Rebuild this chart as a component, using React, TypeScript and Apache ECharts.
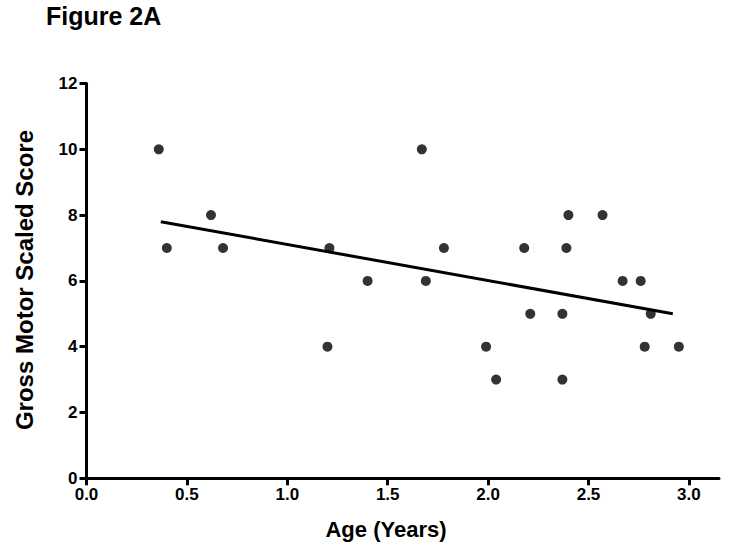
import React, { useEffect, useRef } from "react";
import * as echarts from "echarts";

const ageYears = [0.36, 0.4, 0.62, 0.68, 1.21, 1.2, 1.4, 1.67, 1.69, 1.78, 1.99, 2.04, 2.18, 2.21, 2.37, 2.37, 2.39, 2.4, 2.57, 2.67, 2.76, 2.78, 2.81, 2.95];
const motorScore = [10, 7, 8, 7, 7, 4, 6, 10, 6, 7, 4, 3, 7, 5, 5, 3, 7, 8, 8, 6, 6, 4, 5, 4];
const fitX = [0.37, 2.92];
const fitY = [7.8, 5.0];
const xTicks = [0, 0.5, 1.0, 1.5, 2.0, 2.5, 3.0];
const yTicks = [0, 2, 4, 6, 8, 10, 12];

const FONT = "'Liberation Sans', Arial, Helvetica, sans-serif";

export default function App() {
  const ref = useRef<HTMLDivElement>(null);
  useEffect(() => {
    if (!ref.current) return;
    const chart = echarts.init(ref.current, undefined, { renderer: "svg" });
    const axisCommon = {
      axisLine: { show: true, lineStyle: { color: "#000", width: 3 } },
      axisTick: { show: true, inside: false, length: 7, lineStyle: { color: "#000", width: 3 } },
      splitLine: { show: false },
    };
    chart.setOption({
      animation: false,
      backgroundColor: "#fff",
      grid: { left: 86.5, right: 10, top: 83.5, bottom: 78.7 },
      xAxis: {
        type: "value",
        min: 0,
        max: 3.15,
        ...axisCommon,
        axisTick: { ...axisCommon.axisTick, customValues: xTicks },
        axisLabel: {
          customValues: xTicks,
          formatter: (v: number) => v.toFixed(1),
          color: "#000",
          fontFamily: FONT,
          fontWeight: "bold",
          fontSize: 17,
          margin: 8,
        },
      },
      yAxis: {
        type: "value",
        min: 0,
        max: 12,
        ...axisCommon,
        axisTick: { ...axisCommon.axisTick, customValues: yTicks },
        axisLabel: {
          customValues: yTicks,
          color: "#000",
          fontFamily: FONT,
          fontWeight: "bold",
          fontSize: 17,
          margin: 9,
        },
      },
      series: [
        {
          type: "line",
          data: fitX.map((x, i) => [x, fitY[i]]),
          showSymbol: false,
          symbol: "none",
          lineStyle: { color: "#000", width: 3 },
          z: 2,
        },
        {
          type: "scatter",
          data: ageYears.map((x, i) => [x, motorScore[i]]),
          symbol: "circle",
          symbolSize: 10,
          itemStyle: { color: "#000" },
          z: 3,
        },
      ],
      graphic: [
        {
          type: "text",
          x: 46,
          y: 28,
          style: {
            text: "Figure 2A",
            fill: "#000",
            font: `bold 25px ${FONT}`,
            textAlign: "left",
            textVerticalAlign: "bottom",
          },
        },
        {
          type: "text",
          x: 386,
          y: 529,
          style: {
            text: "Age (Years)",
            fill: "#000",
            font: `bold 22px ${FONT}`,
            textAlign: "center",
            textVerticalAlign: "middle",
          },
        },
        {
          type: "text",
          x: 24,
          y: 280,
          rotation: Math.PI / 2,
          style: {
            text: "Gross Motor Scaled Score",
            fill: "#000",
            font: `bold 24px ${FONT}`,
            textAlign: "center",
            textVerticalAlign: "middle",
          },
        },
      ],
    });
    return () => chart.dispose();
  }, []);
  return (
    <div
      ref={ref}
      style={{ position: "fixed", left: 0, top: 0, width: 729, height: 557 }}
    />
  );
}
